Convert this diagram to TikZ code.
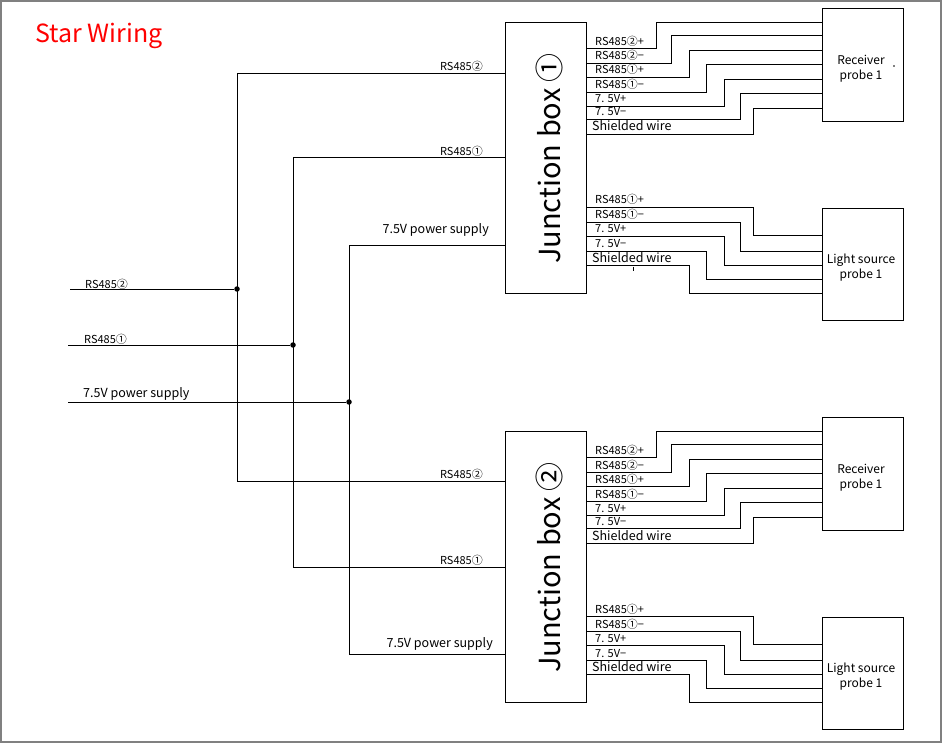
\documentclass[tikz,border=0pt]{standalone}
\usepackage{fontspec}
\usepackage{tikz}
\usetikzlibrary{calc}
\newfontfamily\cjk{Noto Sans CJK SC}
\tikzset{
	wire/.style={line width=0.8pt, color=black},
	unit/.style={draw, line width=0.8pt, minimum width=81pt, inner sep=0pt},
	sig/.style={anchor=base west, inner sep=0pt, font=\cjk\fontsize{11}{12}\selectfont},
	lbl/.style={anchor=base west, inner sep=0pt, font=\cjk\fontsize{12.5}{14}\selectfont},
	jtext/.style={rotate=90, inner sep=0pt, font=\cjk\fontsize{29}{32}\selectfont},
	ptext/.style={align=center, inner sep=0pt, font=\cjk\fontsize{12}{15}\selectfont},
	tap/.style={circle, fill=black, inner sep=0pt, minimum size=5.5pt},
}
\begin{document}
\begin{tikzpicture}[x=1pt, y=-1pt]
	%%%%% START %%%%%
	\useasboundingbox (0,0) rectangle (942,743);
	\draw[line width=2pt, color=black!50] (1,1) rectangle (941,742);
	
	\node[anchor=base west, inner sep=0pt, color=red, font=\cjk\fontsize{25}{28}\selectfont] (title) at (35,42.5) {Star Wiring};
	
	% junction boxes and probes
	\node[unit, minimum height=271pt] (jbox1) at (545.5,157.5) {};
	\node[jtext] (jname1) at (549,158.5) {Junction box ①};
	\node[unit, minimum height=271pt] (jbox2) at (545.5,566.5) {};
	\node[jtext] (jname2) at (549,567.5) {Junction box ②};
	
	\node[unit, minimum height=113pt] (recv1) at (862.5,64.5) {};
	\node[ptext] (rname1) at (861,69) {Receiver\\probe 1};
	\node[unit, minimum height=112pt] (light1) at (862.5,264) {};
	\node[ptext] (lname1) at (861,268) {Light source\\probe 1};
	\node[unit, minimum height=113pt] (recv2) at (862.5,473.5) {};
	\node[ptext] (rname2) at (861,478) {Receiver\\probe 1};
	\node[unit, minimum height=112pt] (light2) at (862.5,673) {};
	\node[ptext] (lname2) at (861,677) {Light source\\probe 1};
	
	% incoming trunk
	\coordinate (in2) at (70,289);
	\coordinate (in1) at (68,345);
	\coordinate (inp) at (68,402);
	\node[tap] (tap2) at (237,289) {};
	\node[tap] (tap1) at (293,345) {};
	\node[tap] (tapp) at (349,402) {};
	\draw[wire] (in2) -- (tap2);
	\draw[wire] (in1) -- (tap1);
	\draw[wire] (inp) -- (tapp);
	\node[sig] (s2) at (85,288) {RS485②};
	\node[sig] (s1) at (84,343.5) {RS485①};
	\node[lbl] (sp) at (83,397.5) {7.5V power supply};
	
	\draw[wire] (jbox1.west |- 0,73) -| (tap2 |- 0,481) -- (jbox2.west |- 0,481);
	\draw[wire] (jbox1.west |- 0,157) -| (tap1 |- 0,567) -- (jbox2.west |- 0,567);
	\draw[wire] (jbox1.west |- 0,245) -| (tapp |- 0,654) -- (jbox2.west |- 0,654);
	\node[sig, anchor=base east] (a2) at (483,71) {RS485②};
	\node[sig, anchor=base east] (a1) at (483,156) {RS485①};
	\node[lbl, anchor=base east] (ap) at (489,234) {7.5V power supply};
	\node[sig, anchor=base east] (b2) at (483,478) {RS485②};
	\node[sig, anchor=base east] (b1) at (483,564) {RS485①};
	\node[lbl, anchor=base east] (bp) at (493,647) {7.5V power supply};
	
	% box 1 -> receiver
	\draw[wire] (jbox1.east |- 0,48) -| (656,22) -- (recv1.west |- 0,22);
	\draw[wire] (jbox1.east |- 0,63) -| (671,35) -- (recv1.west |- 0,35);
	\draw[wire] (jbox1.east |- 0,77) -| (689,50) -- (recv1.west |- 0,50);
	\draw[wire] (jbox1.east |- 0,92) -| (706,64) -- (recv1.west |- 0,64);
	\draw[wire] (jbox1.east |- 0,106) -| (724,79) -- (recv1.west |- 0,79);
	\draw[wire] (jbox1.east |- 0,119) -| (740,93) -- (recv1.west |- 0,93);
	\draw[wire] (jbox1.east |- 0,134) -| (753,108) -- (recv1.west |- 0,108);
	\node[sig] (r1a) at (595,45.5) {RS485②+};
	\node[sig] (r1b) at (595,60) {RS485②−};
	\node[sig] (r1c) at (595,74) {RS485①+};
	\node[sig] (r1d) at (595,89) {RS485①−};
	\node[sig] (r1e) at (595,103) {7. 5V+};
	\node[sig] (r1f) at (595,116) {7. 5V−};
	\node[lbl] (r1g) at (592,131) {Shielded wire};
	\fill (894,66) circle (0.8);
	
	% box 1 -> light source
	\draw[wire] (jbox1.east |- 0,207) -| (753,235) -- (light1.west |- 0,235);
	\draw[wire] (jbox1.east |- 0,222) -| (740,251) -- (light1.west |- 0,251);
	\draw[wire] (jbox1.east |- 0,236) -| (724,265) -- (light1.west |- 0,265);
	\draw[wire] (jbox1.east |- 0,251) -| (706,279) -- (light1.west |- 0,279);
	\draw[wire] (jbox1.east |- 0,265) -| (689,293) -- (light1.west |- 0,293);
	\node[sig] (l1a) at (595,204) {RS485①+};
	\node[sig] (l1b) at (595,219) {RS485①−};
	\node[sig] (l1c) at (595,233) {7. 5V+};
	\node[sig] (l1d) at (595,248) {7. 5V−};
	\node[lbl] (l1e) at (592,262) {Shielded wire};
	\draw[line width=0.6pt] (633,267) -- (633,271);
	
	% box 2 -> receiver
	\draw[wire] (jbox2.east |- 0,457) -| (656,431) -- (recv2.west |- 0,431);
	\draw[wire] (jbox2.east |- 0,472) -| (671,444) -- (recv2.west |- 0,444);
	\draw[wire] (jbox2.east |- 0,486) -| (689,459) -- (recv2.west |- 0,459);
	\draw[wire] (jbox2.east |- 0,501) -| (706,473) -- (recv2.west |- 0,473);
	\draw[wire] (jbox2.east |- 0,515) -| (724,488) -- (recv2.west |- 0,488);
	\draw[wire] (jbox2.east |- 0,528) -| (740,502) -- (recv2.west |- 0,502);
	\draw[wire] (jbox2.east |- 0,543) -| (753,517) -- (recv2.west |- 0,517);
	\node[sig] (r2a) at (595,454.5) {RS485②+};
	\node[sig] (r2b) at (595,469) {RS485②−};
	\node[sig] (r2c) at (595,483) {RS485①+};
	\node[sig] (r2d) at (595,498) {RS485①−};
	\node[sig] (r2e) at (595,512) {7. 5V+};
	\node[sig] (r2f) at (595,525) {7. 5V−};
	\node[lbl] (r2g) at (592,540) {Shielded wire};
	
	% box 2 -> light source
	\draw[wire] (jbox2.east |- 0,616) -| (753,644) -- (light2.west |- 0,644);
	\draw[wire] (jbox2.east |- 0,631) -| (740,660) -- (light2.west |- 0,660);
	\draw[wire] (jbox2.east |- 0,645) -| (724,674) -- (light2.west |- 0,674);
	\draw[wire] (jbox2.east |- 0,660) -| (706,688) -- (light2.west |- 0,688);
	\draw[wire] (jbox2.east |- 0,674) -| (689,702) -- (light2.west |- 0,702);
	\node[sig] (l2a) at (595,613) {RS485①+};
	\node[sig] (l2b) at (595,628) {RS485①−};
	\node[sig] (l2c) at (595,642) {7. 5V+};
	\node[sig] (l2d) at (595,657) {7. 5V−};
	\node[lbl] (l2e) at (592,671) {Shielded wire};
	
	%%%%% END %%%%%
\end{tikzpicture}
\end{document}
